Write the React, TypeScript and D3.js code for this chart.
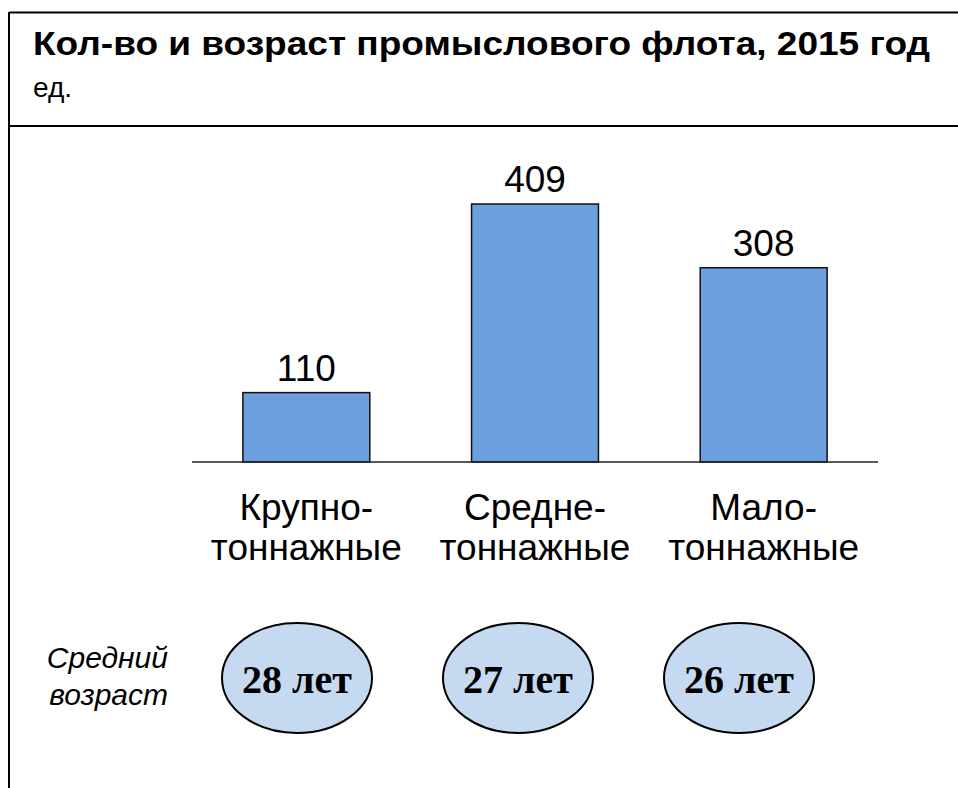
import { useEffect, useRef } from "react";
import * as d3 from "d3";

const categories = ["Крупно-тоннажные", "Средне-тоннажные", "Мало-тоннажные"];
const labelLines = [["Крупно-", "тоннажные"], ["Средне-", "тоннажные"], ["Мало-", "тоннажные"]];
const counts = [110, 409, 308];
const ages = ["28 лет", "27 лет", "26 лет"];

const W = 958;
const H = 788;
const SANS = "'Liberation Sans', Arial, sans-serif";

const App = () => {
  const ref = useRef<SVGSVGElement>(null);

  useEffect(() => {
    const svg = d3.select(ref.current);
    svg.selectAll("*").remove();

    // frame
    const frame = svg.append("g").attr("stroke", "#000").attr("stroke-width", 2);
    frame.append("line").attr("x1", 9).attr("x2", W).attr("y1", 12.5).attr("y2", 12.5);
    frame.append("line").attr("x1", 9).attr("x2", 9).attr("y1", 12).attr("y2", H);
    frame.append("line").attr("x1", 9).attr("x2", W).attr("y1", 126).attr("y2", 126);

    svg.append("text")
      .attr("x", 33).attr("y", 55)
      .attr("font-family", SANS).attr("font-weight", "bold").attr("font-size", 33)
      .attr("textLength", 897).attr("lengthAdjust", "spacingAndGlyphs")
      .text("Кол-во и возраст промыслового флота, 2015 год");
    svg.append("text")
      .attr("x", 33).attr("y", 97)
      .attr("font-family", SANS).attr("font-size", 28)
      .text("ед.");

    const x = d3.scaleBand<string>()
      .domain(categories)
      .range([192, 878])
      .paddingInner(0.445)
      .paddingOuter(0.2225);

    const y = d3.scaleLinear()
      .domain([0, 409])
      .range([462, 204]);

    svg.append("g")
      .selectAll("rect")
      .data(counts)
      .join("rect")
      .attr("x", (_, i) => x(categories[i])!)
      .attr("width", x.bandwidth())
      .attr("y", d => y(d))
      .attr("height", d => y(0) - y(d))
      .attr("fill", "#6b9fde")
      .attr("stroke", "#111")
      .attr("stroke-width", 1.5);

    svg.append("line")
      .attr("x1", 192).attr("x2", 878)
      .attr("y1", y(0)).attr("y2", y(0))
      .attr("stroke", "#222").attr("stroke-width", 1.5);

    svg.append("g")
      .selectAll("text")
      .data(counts)
      .join("text")
      .attr("x", (_, i) => x(categories[i])! + x.bandwidth() / 2)
      .attr("y", d => y(d) - 12)
      .attr("text-anchor", "middle")
      .attr("font-family", SANS).attr("font-size", 37)
      .text(d => d);

    const cat = svg.append("g")
      .attr("font-family", SANS).attr("font-size", 37)
      .attr("text-anchor", "middle");
    labelLines.forEach((lines, i) => {
      const cx = x(categories[i])! + x.bandwidth() / 2;
      lines.forEach((t, j) => {
        cat.append("text").attr("x", cx).attr("y", 520 + j * 40).text(t);
      });
    });

    // average age
    const age = svg.append("g")
      .attr("font-family", SANS).attr("font-style", "italic").attr("font-size", 30)
      .attr("text-anchor", "end");
    age.append("text").attr("x", 168).attr("y", 668).text("Средний");
    age.append("text").attr("x", 168).attr("y", 705).text("возраст");

    const ex = d3.scalePoint<string>().domain(categories).range([297, 739]);

    const ell = svg.append("g");
    ell.selectAll("ellipse")
      .data(ages)
      .join("ellipse")
      .attr("cx", (_, i) => ex(categories[i])!)
      .attr("cy", 678)
      .attr("rx", 75)
      .attr("ry", 55)
      .attr("fill", "#c5d9f1")
      .attr("stroke", "#000")
      .attr("stroke-width", 2);
    ell.selectAll("text")
      .data(ages)
      .join("text")
      .attr("x", (_, i) => ex(categories[i])!)
      .attr("y", 693)
      .attr("text-anchor", "middle")
      .attr("font-family", "'Liberation Serif', 'Times New Roman', serif")
      .attr("font-weight", "bold")
      .attr("font-size", 40)
      .text(d => d);
  }, []);

  return (
    <svg
      ref={ref}
      width={W}
      height={H}
      style={{ position: "absolute", left: 0, top: 0, background: "#fff" }}
    />
  );
};

export default App;
